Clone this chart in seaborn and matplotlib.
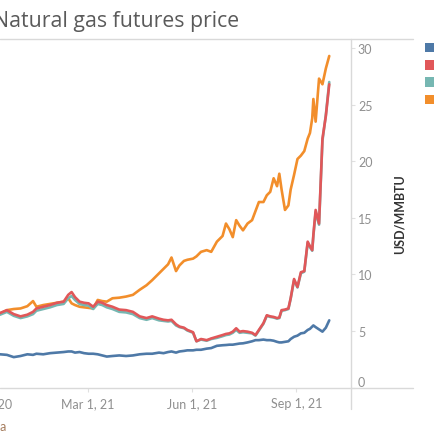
import pandas as pd
import matplotlib
matplotlib.use("Agg")
import matplotlib.pyplot as plt
from matplotlib.lines import Line2D
from matplotlib.patches import Patch
import seaborn as sns

# price data (USD/MMBTU)
dates = ["2020-12-07", "2020-12-14", "2020-12-20", "2020-12-26", "2021-01-01", "2021-01-07",
         "2021-01-12", "2021-01-15", "2021-01-21", "2021-01-27", "2021-02-02", "2021-02-08",
         "2021-02-12", "2021-02-15", "2021-02-18", "2021-02-22", "2021-02-26", "2021-03-02",
         "2021-03-06", "2021-03-10", "2021-03-14", "2021-03-18", "2021-03-23", "2021-03-29",
         "2021-04-04", "2021-04-10", "2021-04-16", "2021-04-22", "2021-04-27", "2021-05-03",
         "2021-05-07", "2021-05-11", "2021-05-14", "2021-05-18", "2021-05-21", "2021-05-25",
         "2021-05-28", "2021-06-02", "2021-06-05", "2021-06-09", "2021-06-14", "2021-06-18",
         "2021-06-23", "2021-06-28", "2021-07-01", "2021-07-04", "2021-07-07", "2021-07-10",
         "2021-07-13", "2021-07-16", "2021-07-20", "2021-07-24", "2021-07-27", "2021-07-30",
         "2021-08-03", "2021-08-06", "2021-08-09", "2021-08-12", "2021-08-15", "2021-08-17",
         "2021-08-19", "2021-08-22", "2021-08-25", "2021-08-27", "2021-08-30", "2021-09-02",
         "2021-09-05", "2021-09-08", "2021-09-11", "2021-09-13", "2021-09-15", "2021-09-16",
         "2021-09-18", "2021-09-21", "2021-09-24", "2021-09-27", "2021-09-30"]

henry_hub = [2.9, 2.95, 2.9, 2.7, 2.8, 2.95, 2.9, 3.0, 2.95, 3.05, 3.1, 3.15,
             3.2, 3.2, 3.1, 3.15, 3.05, 3.0, 3.0, 2.95, 2.85, 2.75, 2.8, 2.85,
             2.8, 2.85, 2.95, 3.0, 3.0, 3.1, 3.05, 3.15, 3.2, 3.1, 3.2, 3.25,
             3.3, 3.3, 3.35, 3.35, 3.45, 3.5, 3.7, 3.75, 3.77, 3.8, 3.8, 3.85,
             3.9, 3.92, 4.0, 4.1, 4.2, 4.2, 4.25, 4.2, 4.2, 4.15, 4.05, 4.0,
             4.0, 4.05, 4.1, 4.3, 4.5, 4.6, 4.8, 4.85, 5.1, 5.2, 5.4, 5.5,
             5.35, 5.15, 4.95, 5.3, 5.95]

nbp = [6.6, 6.6, 6.85, 6.5, 6.3, 6.45, 6.7, 7.0, 7.15, 7.3, 7.5, 7.6,
       8.2, 8.45, 8.0, 7.6, 7.5, 7.45, 7.15, 7.6, 7.5, 7.3, 7.15, 6.9,
       6.85, 6.7, 6.3, 6.15, 6.3, 6.1, 6.0, 5.95, 6.0, 5.6, 5.4, 5.3,
       5.1, 4.9, 4.1, 4.3, 4.2, 4.35, 4.5, 4.65, 4.75, 4.8, 4.95, 5.25,
       4.95, 5.0, 4.95, 4.85, 4.65, 5.1, 5.7, 6.4, 6.3, 6.25, 6.15, 6.2,
       6.85, 6.9, 7.0, 7.9, 9.6, 8.9, 10.2, 10.3, 12.9, 12.5, 12.15, 13.5,
       15.7, 14.5, 22.0, 24.0, 26.8]

ttf = [6.5, 6.45, 6.7, 6.35, 6.15, 6.3, 6.5, 6.8, 6.95, 7.1, 7.3, 7.4,
       7.9, 8.1, 7.75, 7.4, 7.3, 7.25, 6.95, 7.4, 7.3, 7.1, 6.95, 6.7,
       6.65, 6.5, 6.15, 6.0, 6.15, 5.95, 5.9, 5.85, 5.9, 5.5, 5.35, 5.25,
       5.05, 4.85, 4.1, 4.25, 4.15, 4.3, 4.4, 4.55, 4.65, 4.7, 4.85, 5.1,
       4.85, 4.9, 4.85, 4.8, 4.6, 5.05, 5.65, 6.35, 6.25, 6.2, 6.1, 6.15,
       6.8, 6.85, 6.95, 7.85, 9.5, 8.85, 10.1, 10.25, 12.8, 12.4, 12.1, 13.4,
       15.5, 14.4, 21.8, 24.1, 27.0]

jkm = [6.5, 6.55, 6.85, 6.95, 7.0, 7.2, 7.65, 7.15, 7.3, 7.4, 7.5, 7.6,
       7.9, 7.45, 7.3, 7.15, 7.1, 7.05, 7.0, 7.75, 7.65, 7.6, 7.9, 7.95,
       8.05, 8.2, 8.65, 9.05, 9.5, 10.1, 10.5, 10.9, 11.5, 10.3, 10.8, 11.2,
       11.3, 11.4, 11.6, 12.0, 12.15, 12.0, 12.9, 13.4, 14.5, 14.0, 13.3, 14.8,
       14.3, 13.9, 14.5, 14.8, 15.6, 16.4, 16.4, 17.0, 17.3, 18.5, 17.8, 18.9,
       17.5, 15.7, 16.1, 17.5, 18.8, 20.2, 20.5, 20.9, 22.0, 22.5, 23.8, 25.5,
       23.5, 27.3, 26.8, 28.2, 29.3]

series_names = ["Henry Hub", "NBP", "TTF", "JKM"]
series_colors = ["#4e79a7", "#e15759", "#76b7b2", "#f28e2b"]

tick_dates = ["2020-12-01", "2021-03-01", "2021-06-01", "2021-09-01"]
tick_labels = ["Dec 1, 20", "Mar 1, 21", "Jun 1, 21", "Sep 1, 21"]
y_ticks = [0, 5, 10, 15, 20, 25, 30]

df = pd.DataFrame({"date": pd.to_datetime(dates),
                   "Henry Hub": henry_hub, "NBP": nbp, "TTF": ttf, "JKM": jkm})
long_df = df.melt(id_vars="date", var_name="hub", value_name="price")

sns.set_theme(style="white")
plt.rcParams["font.family"] = ["Lato", "DejaVu Sans"]

W = 435.0
fig = plt.figure(figsize=(4.35, 4.35), dpi=100)
# plot area: left part is cut off by the figure edge like in the source
left_px, right_px, top_px, bot_px = -50, 351, 40, 388.7
ax = fig.add_axes([left_px / W, 1 - bot_px / W, (right_px - left_px) / W, (bot_px - top_px) / W])

# drawing order: orange at the back, blue on top
draw_order = ["JKM", "TTF", "NBP", "Henry Hub"]
pal = dict(zip(series_names, series_colors))
sns.lineplot(data=long_df, x="date", y="price", hue="hub", hue_order=draw_order,
             palette=pal, linewidth=1.9, legend=False, ax=ax)

px_per_day = 1.135
mar1 = pd.Timestamp("2021-03-01")
ax.set_xlim(mar1 - pd.Timedelta(days=(87.5 - left_px) / px_per_day),
            mar1 + pd.Timedelta(days=(right_px - 87.5) / px_per_day))
ax.set_ylim(0, 30.8)

ax.set_xticks(pd.to_datetime(tick_dates))
ax.set_xticklabels(tick_labels)
ax.set_yticks(y_ticks)
ax.set_yticks([10, 20, 30], minor=True)
ax.yaxis.tick_right()
ax.grid(False)
ax.grid(which="minor", axis="y", color="#f0f0f0", linewidth=0.8)
ax.tick_params(axis="y", which="major", right=True, length=3, width=0.8, color="#e0e0e0",
               pad=2, labelsize=9, labelcolor="#8f8f8f")
ax.tick_params(axis="y", which="minor", length=0)
ax.tick_params(axis="x", bottom=True, length=3, width=0.8, color="#e0e0e0",
               pad=4, labelsize=9, labelcolor="#8f8f8f")
ax.get_yticklabels()[0].set_va("bottom")
ax.set_xlabel("")
ax.set_ylabel("")
for s in ax.spines.values():
    s.set_visible(False)

# header / axis rules that run past the plot area
line_col = "#d9d9d9"
fig.add_artist(Line2D([0, 413 / W], [1 - top_px / W] * 2, color=line_col, lw=1))
fig.add_artist(Line2D([0, 413 / W], [1 - bot_px / W] * 2, color=line_col, lw=1))
fig.add_artist(Line2D([right_px / W] * 2, [1 - top_px / W, 1 - 410 / W], color=line_col, lw=1))

fig.text(239 / W, 1 - 27 / W, "Natural gas futures price", ha="right", va="baseline",
         fontsize=15.3, color="#5a5a5a", family=["Open Sans", "DejaVu Sans"])
fig.text(400 / W, 1 - 214 / W, "USD/MMBTU", rotation=90, ha="center", va="center",
         fontsize=9, fontweight="bold", color="#333333")
fig.text(6 / W, 1 - 427 / W, "Source: market data", ha="right", va="center",
         fontsize=9, color="#a57c5d")

handles = [Patch(facecolor=c, edgecolor="none", label=n) for n, c in zip(series_names, series_colors)]
fig.legend(handles=handles, loc="upper left", bbox_to_anchor=(425 / W, 1 - 43 / W),
           frameon=False, fontsize=9, handlelength=0.8, handleheight=0.8,
           handletextpad=0.5, labelspacing=0.42, borderpad=0, borderaxespad=0,
           labelcolor="#555555")

fig.savefig("out.png", dpi=100)
